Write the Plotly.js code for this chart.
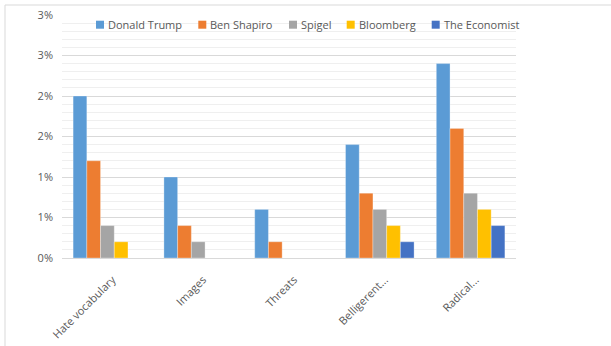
<!DOCTYPE html>
<html>
<head>
<meta charset="utf-8">
<script src="https://cdn.plot.ly/plotly-3.0.1.min.js"></script>
<style>
html,body{margin:0;padding:0;background:#fff;}
#chart{width:611px;height:346px;}
</style>
</head>
<body>
<div id="chart"></div>
<script>
const categories = ["Hate vocabulary", "Images", "Threats", "Belligerent...", "Radical..."];
const seriesNames = ["Donald Trump", "Ben Shapiro", "Spigel", "Bloomberg", "The Economist"];
const trump = [2.0, 1.0, 0.6, 1.4, 2.4];
const shapiro = [1.2, 0.4, 0.2, 0.8, 1.6];
const spigel = [0.4, 0.2, null, 0.6, 0.8];
const bloomberg = [0.2, null, null, 0.4, 0.6];
const economist = [null, null, null, 0.2, 0.4];
const yTickVals = [0, 0.5, 1, 1.5, 2, 2.5, 3];
const yTickText = ["0%", "1%", "1%", "2%", "2%", "3%", "3%"];

const colors = ["#5B9BD5", "#ED7D31", "#A5A5A5", "#FFC000", "#4472C4"];
const allValues = [trump, shapiro, spigel, bloomberg, economist];

// plot-area geometry (pixels) used to place the legend keys
const W = 611, H = 346;
const M = {l: 62, r: 95, t: 15, b: 88};
const PW = W - M.l - M.r, PH = H - M.t - M.b;
const px = v => (v - M.l) / PW;
const py = v => (H - M.b - v) / PH;
const keyLeft = [96, 198.3, 289, 346.7, 431.7];
const keySize = 8, keyTextGap = 12, keyCenterY = 24.7;

const traces = allValues.map((vals, i) => ({
  type: "bar",
  name: seriesNames[i],
  x: categories,
  y: vals,
  showlegend: false,
  marker: {color: colors[i], line: {color: "rgba(255,255,255,0.6)", width: 0.5}},
  hoverinfo: "x+y+name"
}));

const font = {family: "Open Sans, sans-serif", size: 11, color: "#595959"};

const shapes = [{
  type: "rect", xref: "paper", yref: "paper",
  x0: px(5), x1: px(640), y0: py(360), y1: py(5),
  line: {color: "#d9d9d9", width: 1},
  fillcolor: "rgba(0,0,0,0)",
  layer: "below"
}];
const annotations = [];
seriesNames.forEach((name, i) => {
  shapes.push({
    type: "rect", xref: "paper", yref: "paper",
    x0: px(keyLeft[i]), x1: px(keyLeft[i] + keySize),
    y0: py(keyCenterY + keySize / 2), y1: py(keyCenterY - keySize / 2),
    line: {width: 0}, fillcolor: colors[i], layer: "above"
  });
  annotations.push({
    xref: "paper", yref: "paper",
    x: px(keyLeft[i] + keyTextGap), y: py(keyCenterY),
    xanchor: "left", yanchor: "middle",
    text: name, showarrow: false,
    borderpad: 0, borderwidth: 0,
    font: font
  });
});

const layout = {
  width: W,
  height: H,
  margin: {l: M.l, r: M.r, t: M.t, b: M.b, autoexpand: false},
  paper_bgcolor: "#ffffff",
  plot_bgcolor: "#ffffff",
  font: font,
  barmode: "group",
  bargap: 0.245,
  bargroupgap: 0,
  showlegend: false,
  xaxis: {
    type: "category",
    tickangle: -45,
    showgrid: false,
    showline: true,
    linecolor: "#d9d9d9",
    linewidth: 1,
    ticks: "",
    ticklabelstandoff: 10,
    ticklabelshift: 5,
    tickfont: font,
    fixedrange: true
  },
  yaxis: {
    range: [0, 3],
    tickvals: yTickVals,
    ticktext: yTickText,
    showgrid: true,
    gridcolor: "#d9d9d9",
    gridwidth: 1,
    zeroline: false,
    showline: false,
    ticks: "",
    ticklabelstandoff: 8,
    tickfont: font,
    minor: {dtick: 0.1, showgrid: true, gridcolor: "#efefef", gridwidth: 1},
    fixedrange: true
  },
  shapes: shapes,
  annotations: annotations
};

Plotly.newPlot("chart", traces, layout, {displayModeBar: false, staticPlot: true});
</script>
</body>
</html>
